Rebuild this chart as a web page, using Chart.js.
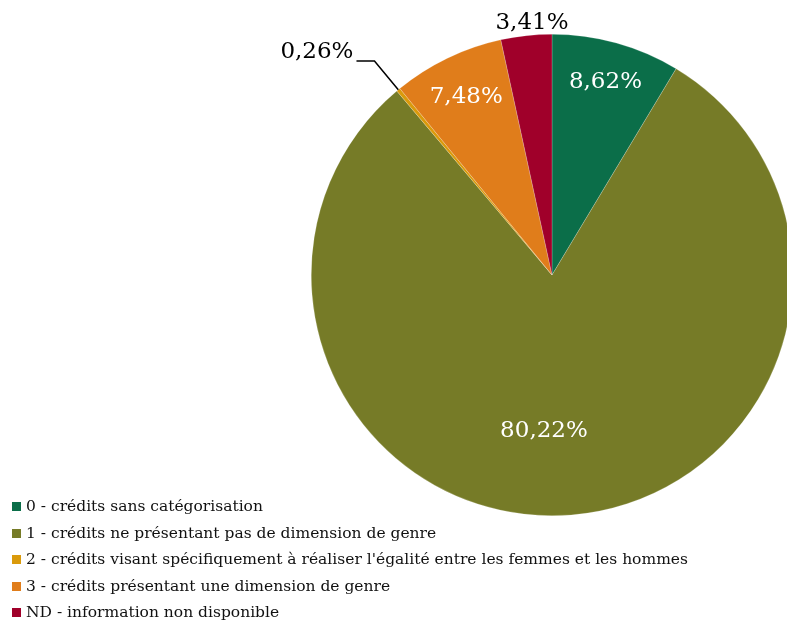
<!DOCTYPE html>
<html>
<head>
<meta charset="utf-8">
<script src="https://cdn.jsdelivr.net/npm/chart.js@4.4.1/dist/chart.umd.min.js"></script>
<style>
  html, body { margin: 0; padding: 0; background: #fff; overflow: hidden; }
  #wrap { position: relative; width: 800px; height: 621px; }
  #legend { position: absolute; left: 12px; top: 495px; font-family: "DejaVu Serif", serif; font-size: 15.5px; color: #111; }
  #legend div { height: 26.5px; line-height: 22px; white-space: nowrap; }
  #legend span.box { display: inline-block; width: 9px; height: 9px; margin-right: 5px; vertical-align: 0px; }
</style>
</head>
<body>
<div id="wrap">
  <canvas id="pieChart" width="800" height="621"></canvas>
  <div id="legend"></div>
</div>
<script>
// ============================================
// DATA
// ============================================
const categories = [
    '0 - crédits sans catégorisation',
    '1 - crédits ne présentant pas de dimension de genre',
    "2 - crédits visant spécifiquement à réaliser l'égalité entre les femmes et les hommes",
    '3 - crédits présentant une dimension de genre',
    'ND - information non disponible'
];
const shares = [8.62, 80.22, 0.26, 7.48, 3.41];
const sliceColors = ['#0b6e49', '#767b27', '#da9a0b', '#e07d1b', '#a0002a'];

// label placement per slice: 'in' / 'out' (fraction of radius, angle nudge in degrees), 'leader'
const labelStyle = [
    { mode: 'in', r: 0.83, da: 0 },
    { mode: 'in', r: 0.65, da: 7.5 },
    { mode: 'leader' },
    { mode: 'in', r: 0.82, da: 0 },
    { mode: 'out', r: 1.05, da: 1.6 }
];

function fmt(v) {
    return v.toFixed(2).replace('.', ',') + '%';
}

// ============================================
// LABEL PLUGIN
// ============================================
const pieLabels = {
    id: 'pieLabels',
    afterDatasetsDraw(chart) {
        const ctx = chart.ctx;
        const arcs = chart.getDatasetMeta(0).data;
        ctx.save();
        ctx.font = '23px "DejaVu Serif", serif';
        ctx.textBaseline = 'middle';
        arcs.forEach((arc, i) => {
            const st = labelStyle[i];
            const R = arc.outerRadius;
            const cx = arc.x, cy = arc.y;
            const text = fmt(shares[i]);
            let mid = (arc.startAngle + arc.endAngle) / 2;
            if (st.mode === 'in' || st.mode === 'out') {
                mid += st.da * Math.PI / 180;
                ctx.fillStyle = st.mode === 'in' ? '#ffffff' : '#000000';
                ctx.textAlign = 'center';
                ctx.fillText(text, cx + Math.cos(mid) * R * st.r, cy + Math.sin(mid) * R * st.r);
            } else {
                const x0 = cx + Math.cos(mid) * R, y0 = cy + Math.sin(mid) * R;
                const x1 = cx + Math.cos(mid) * R * 1.155, y1 = cy + Math.sin(mid) * R * 1.155;
                const x2 = x1 - 18;
                ctx.strokeStyle = '#000';
                ctx.lineWidth = 1.5;
                ctx.beginPath();
                ctx.moveTo(x0, y0);
                ctx.lineTo(x1, y1);
                ctx.lineTo(x2, y1);
                ctx.stroke();
                ctx.fillStyle = '#000000';
                ctx.textAlign = 'right';
                ctx.fillText(text, x2 - 3, y1 - 9);
            }
        });
        ctx.restore();
    }
};

// ============================================
// PIE CHART
// ============================================
const pieChartInstance = new Chart(document.getElementById('pieChart'), {
    type: 'pie',
    data: {
        labels: categories,
        datasets: [{
            data: shares,
            backgroundColor: sliceColors,
            borderColor: 'rgba(255,255,255,0.4)',
            borderWidth: 0.5
        }]
    },
    options: {
        responsive: false,
        animation: false,
        layout: { padding: { left: 311, right: 7, top: 34, bottom: 105 } },
        plugins: {
            legend: { display: false },
            tooltip: { enabled: false }
        }
    },
    plugins: [pieLabels]
});

// legend (HTML)
const legendEl = document.getElementById('legend');
categories.forEach((c, i) => {
    const row = document.createElement('div');
    row.innerHTML = '<span class="box" style="background:' + sliceColors[i] + '"></span>' + c;
    legendEl.appendChild(row);
});
</script>
</body>
</html>
